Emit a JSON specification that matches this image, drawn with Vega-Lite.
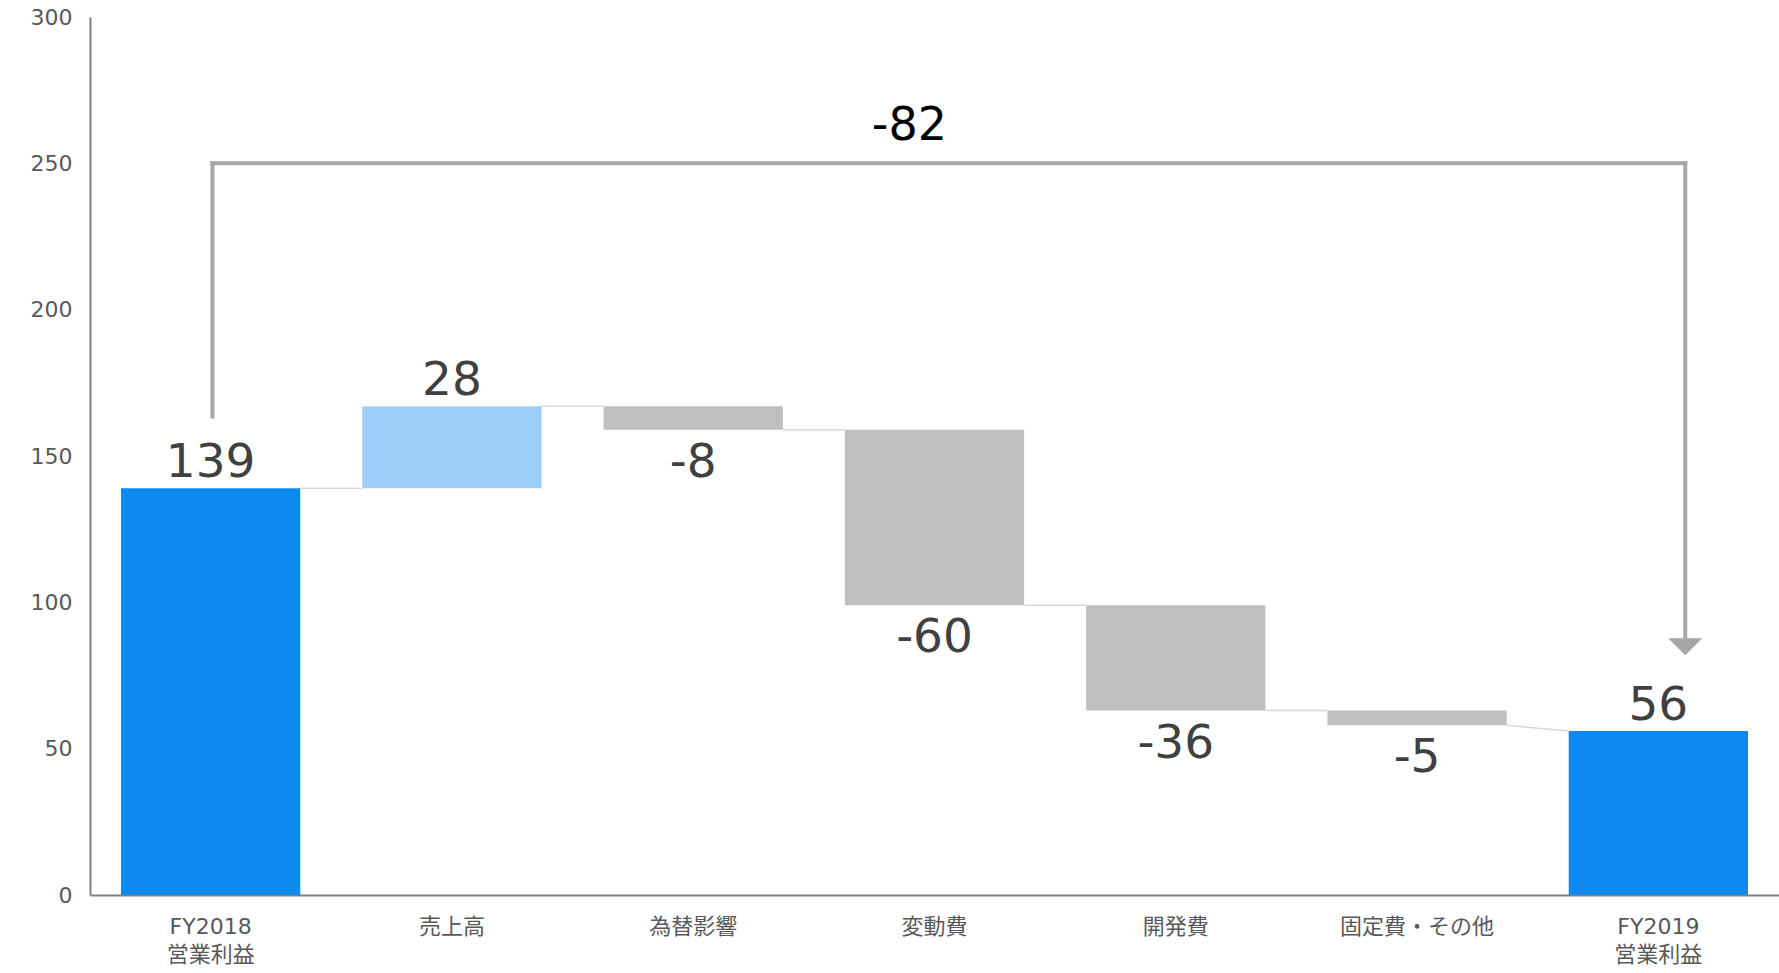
{
  "$schema": "https://vega.github.io/schema/vega-lite/v6.json",
  "autosize": {"type": "none"},
  "width": 1689,
  "height": 878,
  "padding": {"left": 90, "top": 17, "right": 0, "bottom": 78},
  "background": "white",
  "config": {"view": {"stroke": null}, "font": "DejaVu Sans, Noto Sans CJK JP"},
  "datasets": {
    "bars": [
      {"cat": "FY2018 営業利益", "lo": 0, "hi": 139, "kind": "total", "label": "139"},
      {"cat": "売上高", "lo": 139, "hi": 167, "kind": "up", "label": "28"},
      {"cat": "為替影響", "lo": 159, "hi": 167, "kind": "down", "label": "-8"},
      {"cat": "変動費", "lo": 99, "hi": 159, "kind": "down", "label": "-60"},
      {"cat": "開発費", "lo": 63, "hi": 99, "kind": "down", "label": "-36"},
      {"cat": "固定費・その他", "lo": 58, "hi": 63, "kind": "down", "label": "-5"},
      {"cat": "FY2019 営業利益", "lo": 0, "hi": 56, "kind": "total", "label": "56"}
    ],
    "connectors": [
      {"from": "FY2018 営業利益", "to": "売上高", "y1": 139, "y2": 139},
      {"from": "売上高", "to": "為替影響", "y1": 167, "y2": 167},
      {"from": "為替影響", "to": "変動費", "y1": 159, "y2": 159},
      {"from": "変動費", "to": "開発費", "y1": 99, "y2": 99},
      {"from": "開発費", "to": "固定費・その他", "y1": 63, "y2": 63},
      {"from": "固定費・その他", "to": "FY2019 営業利益", "y1": 58, "y2": 56}
    ],
    "bracket": [
      {"start": "FY2018 営業利益", "end": "FY2019 営業利益", "startY": 163.5, "top": 250, "endY": 87, "tip": 84.8, "labelCat": "変動費", "labelY": 258, "label": "-82"}
    ]
  },
  "layer": [
    {
      "data": {"name": "bars"},
      "mark": {"type": "bar"},
      "encoding": {
        "x": {
          "field": "cat", "type": "nominal", "sort": null,
          "scale": {"paddingInner": 0.257, "paddingOuter": 0.1285},
          "axis": {
            "title": null, "labelAngle": 0, "ticks": false, "grid": false,
            "domainColor": "#808080", "domainWidth": 2,
            "labelColor": "#595959", "labelFontSize": 22, "labelPadding": 21,
            "labelLineHeight": 28, "labelBaseline": "top",
            "labelExpr": "split(datum.label, ' ')"
          }
        },
        "y": {
          "field": "lo", "type": "quantitative",
          "scale": {"domain": [0, 300], "nice": false},
          "axis": {
            "title": null, "values": [0, 50, 100, 150, 200, 250, 300],
            "ticks": false, "grid": false, "domainColor": "#808080", "domainWidth": 2,
            "labelColor": "#595959", "labelFontSize": 22, "labelPadding": 18
          }
        },
        "y2": {"field": "hi"},
        "color": {
          "field": "kind", "type": "nominal", "legend": null,
          "scale": {"domain": ["total", "up", "down"], "range": ["#0d89ef", "#9fcefb", "#bfbfbf"]}
        }
      }
    },
    {
      "data": {"name": "connectors"},
      "mark": {"type": "rule", "color": "#d9d9d9", "strokeWidth": 1.5},
      "encoding": {
        "x": {"field": "from", "type": "nominal", "sort": null, "bandPosition": 1},
        "x2": {"field": "to", "bandPosition": 0},
        "y": {"field": "y1", "type": "quantitative"},
        "y2": {"field": "y2"}
      }
    },
    {
      "data": {"name": "bars"},
      "transform": [{"filter": "datum.kind != 'down'"}],
      "mark": {"type": "text", "fontSize": 47, "color": "#404040", "baseline": "alphabetic", "align": "center", "dy": -11, "font": "DejaVu Sans"},
      "encoding": {
        "x": {"field": "cat", "type": "nominal", "sort": null},
        "y": {"field": "hi", "type": "quantitative"},
        "text": {"field": "label"}
      }
    },
    {
      "data": {"name": "bars"},
      "transform": [{"filter": "datum.kind == 'down'"}],
      "mark": {"type": "text", "fontSize": 47, "color": "#404040", "baseline": "alphabetic", "align": "center", "dy": 47, "font": "DejaVu Sans"},
      "encoding": {
        "x": {"field": "cat", "type": "nominal", "sort": null},
        "y": {"field": "lo", "type": "quantitative"},
        "text": {"field": "label"}
      }
    },
    {
      "data": {"name": "bracket"},
      "mark": {"type": "rule", "color": "#a6a6a6", "strokeWidth": 4, "strokeCap": "square"},
      "encoding": {
        "x": {"field": "start", "type": "nominal", "sort": null, "bandPosition": 0.51},
        "y": {"field": "startY", "type": "quantitative"},
        "y2": {"field": "top"}
      }
    },
    {
      "data": {"name": "bracket"},
      "mark": {"type": "rule", "color": "#a6a6a6", "strokeWidth": 4, "strokeCap": "square"},
      "encoding": {
        "x": {"field": "start", "type": "nominal", "sort": null, "bandPosition": 0.51},
        "x2": {"field": "end", "bandPosition": 0.65},
        "y": {"field": "top", "type": "quantitative"}
      }
    },
    {
      "data": {"name": "bracket"},
      "mark": {"type": "rule", "color": "#a6a6a6", "strokeWidth": 4, "strokeCap": "square"},
      "encoding": {
        "x": {"field": "end", "type": "nominal", "sort": null, "bandPosition": 0.65},
        "y": {"field": "top", "type": "quantitative"},
        "y2": {"field": "endY"}
      }
    },
    {
      "data": {"name": "bracket"},
      "mark": {"type": "point", "shape": "M -1 -0.5 L 1 -0.5 L 0 0.5 Z", "filled": true, "color": "#a6a6a6", "opacity": 1, "size": 1156, "strokeWidth": 0},
      "encoding": {
        "x": {"field": "end", "type": "nominal", "sort": null, "bandPosition": 0.65},
        "y": {"field": "tip", "type": "quantitative"}
      }
    },
    {
      "data": {"name": "bracket"},
      "mark": {"type": "text", "fontSize": 46, "color": "#000000", "baseline": "alphabetic", "align": "center", "font": "DejaVu Sans"},
      "encoding": {
        "x": {"field": "labelCat", "type": "nominal", "sort": null, "bandPosition": 0.36},
        "y": {"field": "labelY", "type": "quantitative"},
        "text": {"field": "label"}
      }
    }
  ]
}
